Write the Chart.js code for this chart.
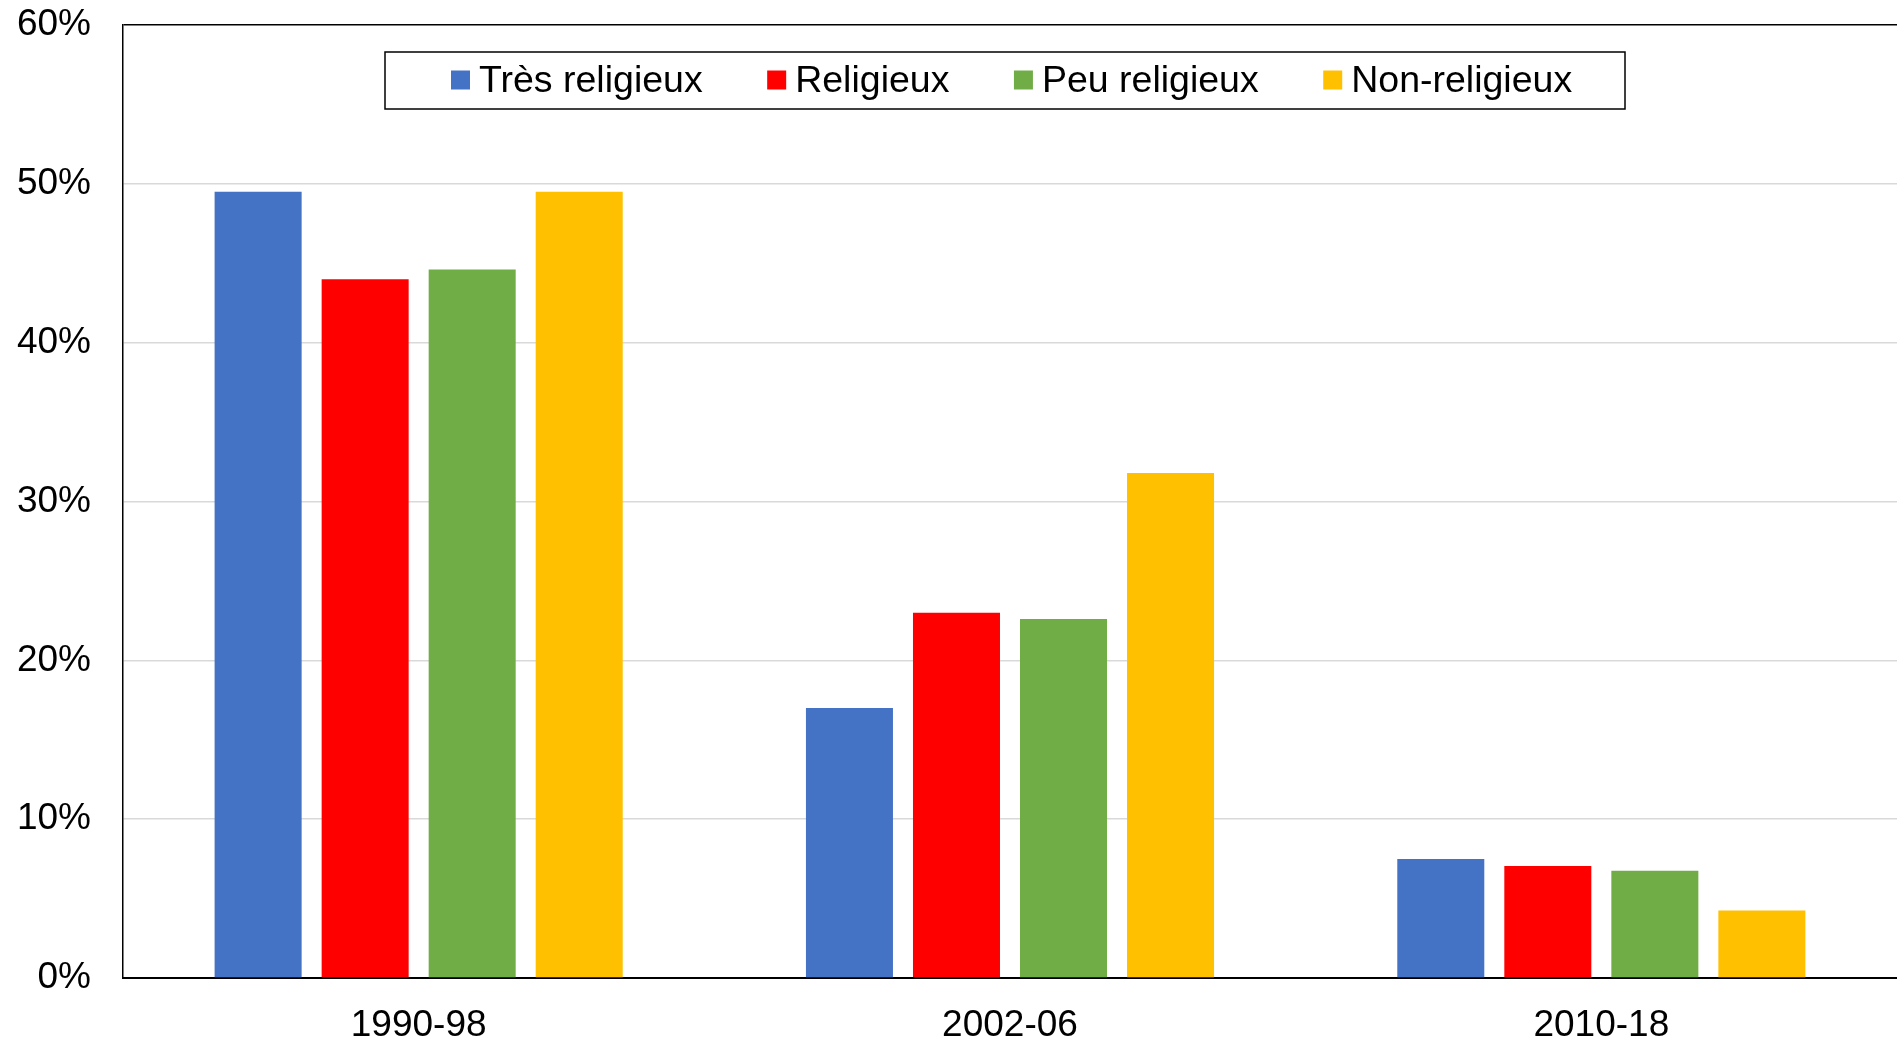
<!DOCTYPE html>
<html>
<head>
<meta charset="utf-8">
<script src="https://cdn.jsdelivr.net/npm/chart.js@4.4.1/dist/chart.umd.min.js"></script>
<style>
  body { margin: 0; background: #fff; }
  canvas { display: block; }
</style>
</head>
<body>
<canvas id="chart" width="1897" height="1041"></canvas>
<script>
const periodes = ["1990-98", "2002-06", "2010-18"];
const tresReligieux = [49.5, 17.0, 7.5];
const religieux = [44.0, 23.0, 7.05];
const peuReligieux = [44.6, 22.6, 6.75];
const nonReligieux = [49.5, 31.8, 4.25];
const ticksY = [0, 10, 20, 30, 40, 50, 60];

const fuente = "'Liberation Sans', Arial, sans-serif";
const canvas = document.getElementById("chart").getContext("2d");

// leyenda dentro del area del grafico, con marco negro
const leyendaCaja = {
  id: "leyendaCaja",
  afterDraw(chart) {
    const ctx = chart.ctx;
    const x0 = 385, y0 = 52, w = 1240, h = 57;
    ctx.save();
    ctx.fillStyle = "#fff";
    ctx.fillRect(x0, y0, w, h);
    ctx.strokeStyle = "#000";
    ctx.lineWidth = 1.5;
    ctx.strokeRect(x0, y0, w, h);
    ctx.font = "37.5px " + fuente;
    ctx.textBaseline = "middle";
    ctx.fillStyle = "#000";
    let x = x0 + 66;
    const yc = y0 + h / 2;
    chart.data.datasets.forEach(ds => {
      ctx.fillStyle = ds.backgroundColor;
      ctx.fillRect(x, yc - 10, 19, 19);
      x += 28;
      ctx.fillStyle = "#000";
      ctx.fillText(ds.label, x, yc + 1);
      x += ctx.measureText(ds.label).width + 64.5;
    });
    ctx.restore();
  }
};

const data = {
  labels: periodes,
  datasets: [
    { label: "Très religieux", data: tresReligieux, backgroundColor: "#4472C4" },
    { label: "Religieux", data: religieux, backgroundColor: "#FF0000" },
    { label: "Peu religieux", data: peuReligieux, backgroundColor: "#70AD47" },
    { label: "Non-religieux", data: nonReligieux, backgroundColor: "#FFC000" },
  ],
};

const config = {
  type: "bar",
  data: data,
  options: {
    responsive: false,
    animation: false,
    layout: { padding: { top: 25, right: 0, left: 0, bottom: 0 } },
    datasets: {
      bar: { categoryPercentage: 0.724, barPercentage: 0.813 },
    },
    plugins: {
      legend: { display: false },
      tooltip: { enabled: false },
    },
    scales: {
      x: {
        grid: { display: false, drawTicks: false },
        border: { display: true, color: "#000", width: 2 },
        ticks: { color: "#000", font: { family: fuente, size: 37 }, padding: 26 },
        afterFit(scale) { scale.height = 63; },
      },
      y: {
        min: 0,
        max: 60,
        afterBuildTicks(scale) { scale.ticks = ticksY.map(v => ({ value: v })); },
        grid: {
          drawTicks: false,
          color: c => (c.tick && c.tick.value === 60 ? "#000" : "#D9D9D9"),
          lineWidth: 1.5,
        },
        border: { display: true, color: "#000", width: 1.5 },
        ticks: {
          color: "#000",
          font: { family: fuente, size: 37 },
          padding: 32,
          callback: v => v + "%",
        },
        afterFit(scale) {
          scale.width = 123;
          scale.paddingTop = 0;
          scale.paddingBottom = 0;
        },
      },
    },
  },
  plugins: [leyendaCaja],
};

const chart = new Chart(canvas, config);
</script>
</body>
</html>
